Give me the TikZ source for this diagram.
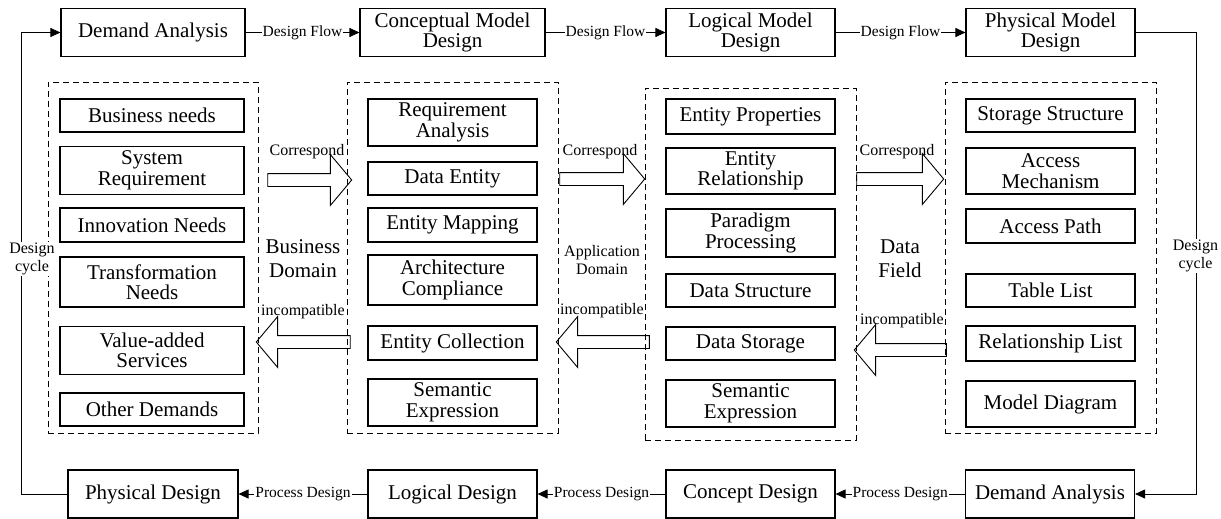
\documentclass[tikz,border=0pt]{standalone}
\usepackage{fontspec}
\setmainfont{Liberation Serif}
\usetikzlibrary{arrows.meta,shapes.arrows}

\begin{document}
\begin{tikzpicture}[
    x=1pt, y=-1pt,
    box/.style={draw, line width=1.1pt, minimum width=169pt, minimum height=34pt, inner sep=1pt,
                align=center, font=\fontsize{21}{20.5}\selectfont},
    tall/.style={box, minimum height=48pt},
    group/.style={draw, dash pattern=on 6pt off 4pt, line width=0.9pt,
                  minimum width=211pt, minimum height=351pt},
    flow/.style={-{Triangle[length=10pt,width=9pt]}, line width=0.9pt},
    lbl/.style={fill=white, inner sep=1pt, font=\fontsize{15.5}{18}\selectfont},
    small/.style={align=center, inner sep=1pt, font=\fontsize{16}{18}\selectfont},
    domlbl/.style={align=center, inner sep=1pt, font=\fontsize{21}{24}\selectfont},
    blockarrow/.style={single arrow, draw, line width=0.9pt, minimum height=84pt, inner sep=6pt,
                       single arrow head extend=19pt, single arrow tip angle=100}
]
\useasboundingbox (0,0) rectangle (1221,519);

% top row
\node[tall, minimum width=184pt] (da1) at (153,32.5) {Demand Analysis};
\node[tall, minimum width=185pt] (cmd) at (452.5,32.5) {Conceptual Model\\Design};
\node[tall] (lmd) at (750.5,32.5) {Logical Model\\Design};
\node[tall] (pmd) at (1050.5,32.5) {Physical Model\\Design};

% bottom row
\node[tall, minimum width=170pt] (pd) at (153,494) {Physical Design};
\node[tall] (ld) at (452.5,494) {Logical Design};
\node[tall] (cd) at (750.5,494) {Concept Design};
\node[tall] (da2) at (1050,494) {Demand Analysis};

% dashed groups
\node[group, minimum width=210pt] (g1) at (153,257.5) {};
\node[group] (g2) at (452.5,257.5) {};
\node[group, minimum height=352pt] (g3) at (750.5,264) {};
\node[group] (g4) at (1050.5,257.5) {};

% business domain
\node[box, minimum width=184pt, minimum height=33pt] (b1) at (152,115.5) {Business needs};
\node[tall, minimum width=184pt] (b2) at (152,170.5) {System\\Requirement};
\node[box, minimum width=184pt] (b3) at (152,225) {Innovation Needs};
\node[tall, minimum width=184pt, minimum height=50pt] (b4) at (152,282) {Transformation\\Needs};
\node[tall, minimum width=184pt] (b5) at (152,350.5) {Value-added\\Services};
\node[box, minimum width=184pt, minimum height=33pt] (b6) at (152,409.5) {Other Demands};

% application domain
\node[tall, minimum height=47pt] (c1) at (452.5,122.5) {Requirement\\Analysis};
\node[box, minimum height=33pt] (c2) at (452.5,178.5) {Data Entity};
\node[box] (c3) at (452.5,225) {Entity Mapping};
\node[tall, minimum height=50pt] (c4) at (452.5,280) {Architecture\\Compliance};
\node[box] (c5) at (452.5,343) {Entity Collection};
\node[tall, minimum height=47pt] (c6) at (452.5,402.5) {Semantic\\Expression};

% data field
\node[box, minimum height=35pt] (l1) at (750.5,116.5) {Entity Properties};
\node[tall, minimum height=46pt] (l2) at (750.5,171) {Entity\\Relationship};
\node[tall] (l3) at (750.5,233) {Paradigm\\Processing};
\node[box, minimum height=33pt] (l4) at (750.5,290.5) {Data Structure};
\node[box, minimum height=33pt] (l5) at (750.5,343.5) {Data Storage};
\node[tall, minimum height=47pt] (l6) at (750.5,403.5) {Semantic\\Expression};

% physical side
\node[box, minimum height=33pt] (p1) at (1050.5,115.5) {Storage Structure};
\node[tall, minimum height=46pt] (p2) at (1050.5,171) {Access\\Mechanism};
\node[box] (p3) at (1050.5,226) {Access Path};
\node[box, minimum height=33pt] (p4) at (1050.5,290.5) {Table List};
\node[box, minimum height=35pt] (p5) at (1050.5,343.5) {Relationship List};
\node[tall, minimum height=46pt] (p6) at (1050.5,404) {Model Diagram};

% domain labels
\node[domlbl] (dom1) at (303,259) {Business\\Domain};
\node[small] (dom2) at (602,260) {Application\\Domain};
\node[domlbl] (dom3) at (900,259) {Data\\Field};

% block arrows
\node[blockarrow] (cor1) at (307,180) {};
\node[blockarrow, minimum height=85pt] (cor2) at (599.5,179) {};
\node[blockarrow, minimum height=87pt] (cor3) at (897.5,179) {};
\node[blockarrow, rotate=180, minimum height=94pt] (inc1) at (306,342) {};
\node[blockarrow, rotate=180, minimum height=93pt] (inc2) at (605.5,342) {};
\node[blockarrow, rotate=180, minimum height=92pt] (inc3) at (903,350) {};

\node[small] at (307,152) {Correspond};
\node[small] at (600,152) {Correspond};
\node[small] at (897,152) {Correspond};
\node[small] at (303,312) {incompatible};
\node[small] at (602,311) {incompatible};
\node[small] at (902,321) {incompatible};

% flows
\draw[flow] (da1) -- node[lbl] {Design Flow} (cmd);
\draw[flow] (cmd) -- node[lbl] {Design Flow} (lmd);
\draw[flow] (lmd) -- node[lbl] {Design Flow} (pmd);
\draw[flow] (da2) -- node[lbl] {Process Design} (cd);
\draw[flow] (cd) -- node[lbl] {Process Design} (ld);
\draw[flow] (ld) -- node[lbl] {Process Design} (pd);

% design cycles
\draw[flow] (pd.west) -- ++(-46,0) |- (da1.west);
\draw[flow] (pmd.east) -- ++(61,0) |- (da2.east);
\node[small, fill=white] (cyc1) at (32,259) {Design\\cycle};
\node[small, fill=white] (cyc2) at (1195.5,256) {Design\\cycle};
\end{tikzpicture}
\end{document}
